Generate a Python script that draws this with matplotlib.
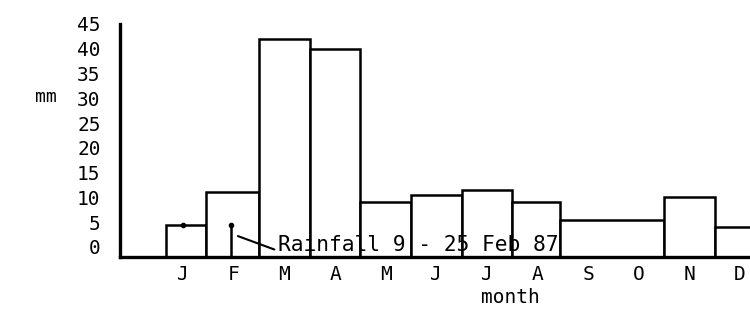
import matplotlib.pyplot as plt

plt.rcParams['font.family'] = 'DejaVu Sans Mono'

# monthly rainfall (mm), Sep and Oct share one bar
months = ['J', 'F', 'M', 'A', 'M', 'J', 'J', 'A', 'S', 'O', 'N', 'D']
bar_start = [-0.35, 0.45, 1.5, 2.5, 3.5, 4.5, 5.5, 6.5, 7.45, 9.5, 10.5]
bar_end = [0.45, 1.5, 2.5, 3.5, 4.5, 5.5, 6.5, 7.45, 9.5, 10.5, 11.5]
rain = [4.5, 11, 42, 40, 9, 10.5, 11.5, 9, 5.5, 10, 4]

# 1987 readings
pt_month = [0, 0.95]
pt_rain = [4.5, 4.5]

base = -2  # drawn baseline sits a little below the 0 label

fig = plt.figure(figsize=(7.5, 3.11), dpi=100)
ax = fig.add_axes([0.16, 0.174, 0.84, 0.749])

widths = [e - s for s, e in zip(bar_start, bar_end)]
heights = [r - base for r in rain]
ax.bar(bar_start, heights, width=widths, align='edge', bottom=base,
       color='white', edgecolor='black', linewidth=1.8, zorder=2)

# Feb stem and Jan dot
ax.vlines(pt_month[1], base, pt_rain[1], color='black', linewidth=1.8, zorder=3)
ax.plot(pt_month, pt_rain, 'o', color='black', markersize=3, zorder=4)

ax.annotate('Rainfall 9 - 25 Feb 87', xy=(1.08, 2.2), xytext=(1.88, 0.4),
            fontsize=15.3, va='center', ha='left',
            arrowprops=dict(arrowstyle='-', color='black', lw=1.5,
                            shrinkA=1, shrinkB=0, relpos=(0, 0.2)))

ax.set_xlim(-1.25, 11.2)
ax.set_ylim(base, 44.6)
ax.set_yticks(range(0, 50, 5))
ax.set_xticks(range(12))
ax.set_xticklabels(months)
ax.tick_params(axis='y', length=0, pad=14, labelsize=14)
ax.tick_params(axis='x', length=0, pad=6, labelsize=14)

for s in ['top', 'right']:
    ax.spines[s].set_visible(False)
ax.spines['left'].set_linewidth(2.4)
ax.spines['bottom'].set_linewidth(2.4)

fig.text(0.047, 0.688, 'mm', fontsize=13, va='center', ha='left')
fig.text(0.681, 0.042, 'month', fontsize=14, va='center', ha='center')

plt.savefig('out.png', dpi=100)
